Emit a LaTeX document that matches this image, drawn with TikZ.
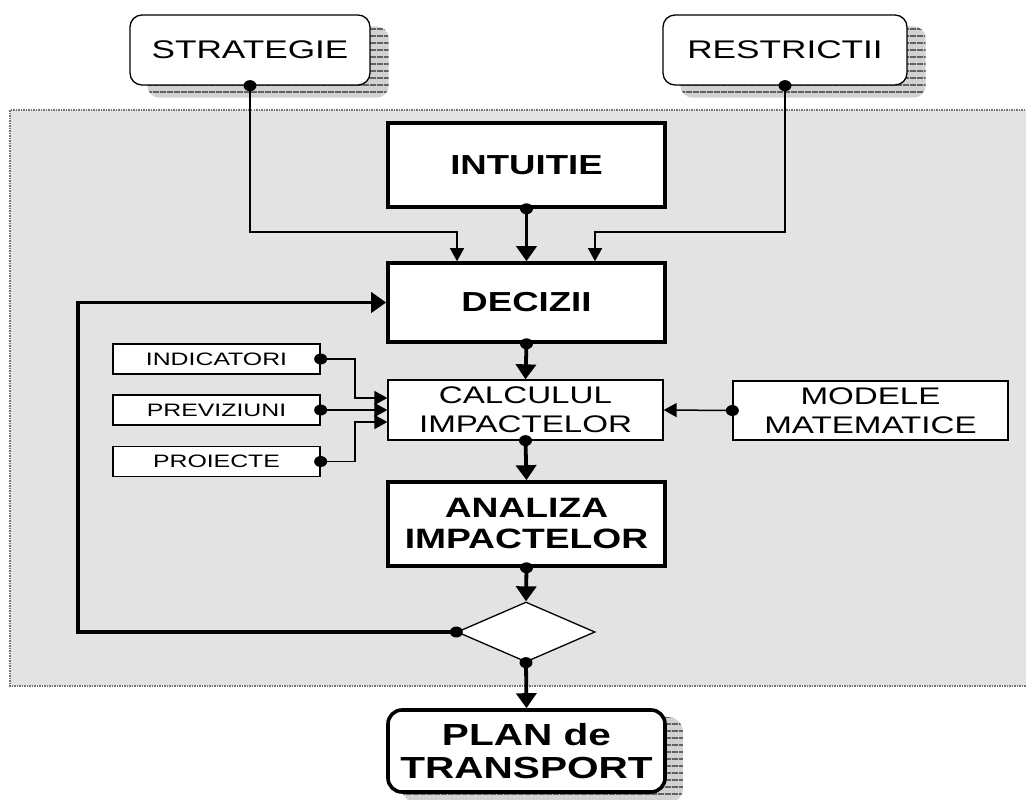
\documentclass[tikz,border=0pt]{standalone}
\usepackage{graphicx}
\usepackage{fontspec}
\setmainfont{Liberation Sans}
\usetikzlibrary{arrows.meta,shapes.geometric,backgrounds,patterns.meta}
\newcommand{\sx}[1]{\scalebox{1.38}[1]{#1}}
\newcommand{\sbold}[1]{\scalebox{1.33}[1]{#1}}
\newcommand{\fsz}[2]{\fontsize{#1}{#2}\selectfont}
\newcommand{\dotat}[1]{\fill (#1) ellipse [x radius=6.5pt, y radius=5.5pt];}
\newcommand{\hshadow}[4]{%
  \path[fill=gray!35, rounded corners=#4] ([shift={(#2,-#3)}]#1.south west) rectangle ([shift={(#2,-#3)}]#1.north east);
  \path[pattern={Lines[angle=0,distance=6.5pt,line width=1.3pt]}, pattern color=black!85, rounded corners=#4] ([shift={(#2,-#3)}]#1.south west) rectangle ([shift={(#2,-#3)}]#1.north east);}
\begin{document}
\begin{tikzpicture}[x=1pt,y=-1pt,
  box/.style={draw, fill=white, inner sep=0pt, align=center},
  thinbox/.style={box, line width=1.3pt},
  rbox/.style={thinbox, rounded corners=12pt},
  thickbox/.style={box, line width=3.6pt},
  tk/.style={line width=3.8pt, -{Triangle[length=15pt,width=20pt]}},
  tn/.style={line width=1.5pt, -{Triangle[length=13pt,width=14pt]}},
  tl/.style={line width=3.8pt},
  panelborder/.style={draw=black!55, line width=1.5pt, densely dotted},
]
\useasboundingbox (0,0) rectangle (1026,800);
\fill[black!11] (10,110) rectangle (1040,686);
\draw[panelborder] (1040,110) -- (10,110) -- (10,686) -- (1040,686);

% nodes
\node[rbox, minimum width=240pt, minimum height=70pt, font=\fsz{25.5}{30}] (strat) at (250,50) {\sx{STRATEGIE}};
\node[rbox, minimum width=244pt, minimum height=70pt, font=\fsz{25.5}{30}] (restr) at (785,50) {\sx{RESTRICTII}};
\node[thickbox, minimum width=277pt, minimum height=84pt, font=\fsz{27.5}{31}\bfseries] (intu) at (526.5,165) {\sbold{INTUITIE}};
\node[thickbox, minimum width=277pt, minimum height=79pt, font=\fsz{27.5}{31}\bfseries] (dec) at (526.5,302.5) {\sbold{DECIZII}};
\node[thinbox, minimum width=275pt, minimum height=60pt, font=\fsz{24}{29}] (calc) at (525.5,410) {\sx{CALCULUL}\\\sx{IMPACTELOR}};
\node[thickbox, minimum width=277pt, minimum height=84pt, font=\fsz{28}{31}\bfseries] (anal) at (526.5,524) {\sbold{ANALIZA}\\\sbold{IMPACTELOR}};
\node[draw, fill=white, shape=diamond, inner sep=0pt, minimum width=138pt, minimum height=60pt, line width=1.3pt] (dia) at (526,632) {};
\node[thickbox, rounded corners=14pt, minimum width=277pt, minimum height=82pt, font=\fsz{30.5}{33}\bfseries] (plan) at (526.5,751) {\sbold{PLAN de}\\\sbold{TRANSPORT}};
\node[thinbox, minimum width=207pt, minimum height=30pt, font=\fsz{18}{22}] (indic) at (216.5,359) {\sx{INDICATORI}};
\node[thinbox, minimum width=207pt, minimum height=30pt, font=\fsz{18}{22}] (prev) at (216.5,410) {\sx{PREVIZIUNI}};
\node[thinbox, minimum width=207pt, minimum height=30pt, font=\fsz{18}{22}] (proie) at (216.5,461.5) {\sx{PROIECTE}};
\node[thinbox, minimum width=275pt, minimum height=59pt, font=\fsz{24}{29}] (model) at (870.5,410.5) {\sx{MODELE}\\\sx{MATEMATICE}};

% shadows
\begin{scope}[on background layer]
  \hshadow{strat}{18pt}{12pt}{12pt}
  \hshadow{restr}{18pt}{12pt}{12pt}
  \hshadow{plan}{16pt}{9pt}{14pt}
\end{scope}

% helper coordinates
\coordinate (sc) at (457,232);
\coordinate (rc) at (595,232);
\coordinate (lc) at (78,632);
\coordinate (jn) at (355,410);

% connectors
\draw[tn] (strat.south) |- (sc) -- (sc |- dec.north);
\draw[tn] (restr.south) |- (rc) -- (rc |- dec.north);
\draw[tk] (intu.south) -- (dec.north);
\draw[tk] (dec.south) -- (calc.north);
\draw[tn] (indic.east) -| ([yshift=12pt]jn) -- ([yshift=12pt]calc.west);
\draw[tn] (prev.east) -- (calc.west);
\draw[tn] (proie.east) -| ([yshift=-12pt]jn) -- ([yshift=-12pt]calc.west);
\draw[tn] (model.west) -- (calc.east);
\draw[tk] (calc.south) -- (anal.north);
\draw[tk] (anal.south) -- (dia.north);
\draw[tl, -{Triangle[length=15pt,width=20pt]}] (dia.west) -- (lc) |- (dec.west);
\draw[tk] (dia.south) -- (plan.north);

% dots
\dotat{strat.south}
\dotat{restr.south}
\dotat{intu.south}
\dotat{dec.south}
\dotat{indic.east}
\dotat{prev.east}
\dotat{proie.east}
\dotat{model.west}
\dotat{calc.south}
\dotat{anal.south}
\dotat{dia.west}
\dotat{dia.south}
\end{tikzpicture}
\end{document}
